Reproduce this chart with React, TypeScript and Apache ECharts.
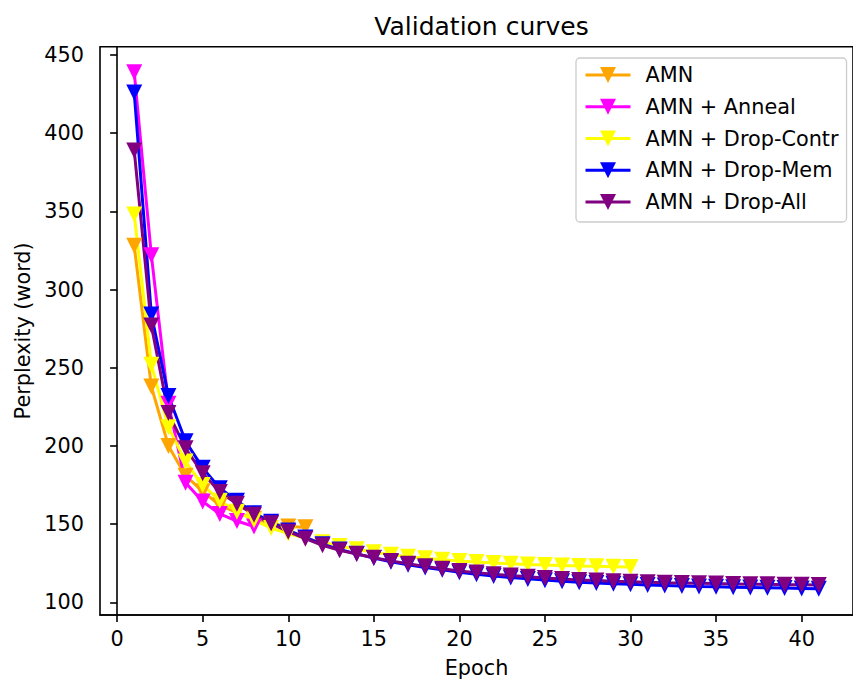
import React, { useEffect, useRef } from "react";
import * as echarts from "echarts";

const titleText = "Validation curves";
const xAxisName = "Epoch";
const yAxisName = "Perplexity (word)";
const xTicks = [0, 5, 10, 15, 20, 25, 30, 35, 40];
const yTicks = [100, 150, 200, 250, 300, 350, 400, 450];

const seriesNames = [
  "AMN",
  "AMN + Anneal",
  "AMN + Drop-Contr",
  "AMN + Drop-Mem",
  "AMN + Drop-All",
];
const seriesColors = ["#FFA500", "#FF00FF", "#FFFF00", "#0000FF", "#800080"];

const amn = [328, 238, 200, 181, 171, 162, 157.5, 153.5, 150.5, 148.5, 148];
const amnAnneal = [439, 322, 227, 176.5, 164.5, 156.5, 152, 148.5];
const amnDropContr = [
  348, 252, 212, 190, 175, 165, 158, 152.5, 147.5, 144, 141, 138.5, 136, 134,
  132, 130.5, 129.2, 128.2, 127.3, 126.5, 125.8, 125.2, 124.7, 124.2, 123.8,
  123.5, 123.2, 123, 122.8, 122.6,
];
const amnDropMem = [
  426, 284, 232, 203, 186, 173, 165, 157, 151.5, 146, 141.5, 137.2, 133.8, 131,
  128.3, 126, 124, 122.3, 120.8, 119.3, 118, 116.9, 115.9, 115, 114.2, 113.5,
  112.9, 112.4, 111.9, 111.5, 111.1, 110.8, 110.5, 110.2, 110, 109.7, 109.5,
  109.3, 109.1, 108.9, 108.7,
];
const amnDropAll = [
  389, 277, 221, 198.5, 182.5, 170.5, 163, 156, 150.5, 145.2, 140.7, 136.5,
  133.3, 130.9, 128.5, 126.5, 124.7, 123, 121.5, 120.1, 119, 118, 117.1, 116.3,
  115.5, 114.9, 114.3, 113.9, 113.5, 113.2, 112.9, 112.6, 112.4, 112.2, 112,
  111.8, 111.6, 111.5, 111.3, 111.2, 111.1,
];

const allValues = [amn, amnAnneal, amnDropContr, amnDropMem, amnDropAll];

const FONT = "DejaVu Sans";

export default function App() {
  const ref = useRef<HTMLDivElement>(null);
  useEffect(() => {
    document.body.style.margin = "0";
    const chart = echarts.init(ref.current!, null, { renderer: "svg" });
    const series = allValues.map((vals, i) => ({
      name: seriesNames[i],
      type: "line",
      data: vals.map((v, j) => [j + 1, v]),
      symbol: "triangle",
      symbolSize: 16,
      symbolRotate: 180,
      showAllSymbol: true,
      lineStyle: { color: seriesColors[i], width: 3 },
      itemStyle: { color: seriesColors[i] },
      emphasis: { disabled: true },
    }));
    chart.setOption({
      animation: false,
      backgroundColor: "#ffffff",
      textStyle: { fontFamily: FONT },
      grid: {
        left: 100,
        top: 46.7,
        right: -10,
        bottom: 68,
        show: true,
        borderColor: "#000",
        borderWidth: 1.6,
        containLabel: false,
      },
      graphic: [
        {
          type: "text",
          x: 481.5,
          y: 14,
          style: {
            text: titleText,
            fontSize: 25,
            fontFamily: FONT,
            fill: "#000",
            textAlign: "center",
            textVerticalAlign: "top",
          },
        },
      ],
      legend: {
        orient: "vertical",
        left: 576,
        top: 58,
        padding: [5, 8, 8, 8],
        itemWidth: 45,
        itemHeight: 20,
        itemGap: 7.75,
        backgroundColor: "rgba(255,255,255,0.8)",
        borderColor: "#cccccc",
        borderWidth: 1.3,
        borderRadius: 4,
        lineStyle: { width: 3 },
        textStyle: {
          fontFamily: FONT,
          fontSize: 20.8,
          color: "#000",
          lineHeight: 24,
          padding: [0, 0, 0, 10],
        },
        data: seriesNames,
      },
      xAxis: {
        type: "value",
        min: -1,
        max: 43,
        name: xAxisName,
        nameLocation: "middle",
        nameGap: 42,
        nameTextStyle: { fontFamily: FONT, fontSize: 20.8, color: "#000" },
        axisLine: { lineStyle: { color: "#000", width: 1.6 } },
        axisTick: {
          show: true,
          length: 7,
          lineStyle: { color: "#000", width: 1.6 },
          customValues: xTicks,
        },
        axisLabel: {
          fontFamily: FONT,
          fontSize: 20.8,
          color: "#000",
          margin: 13,
          customValues: xTicks,
        },
        splitLine: { show: false },
      },
      yAxis: {
        type: "value",
        min: 91.9,
        max: 455.3,
        name: yAxisName,
        nameLocation: "middle",
        nameGap: 66,
        nameTextStyle: { fontFamily: FONT, fontSize: 20.8, color: "#000" },
        axisLine: { show: true, lineStyle: { color: "#000", width: 1.6 } },
        axisTick: {
          show: true,
          length: 7,
          lineStyle: { color: "#000", width: 1.6 },
          customValues: yTicks,
        },
        axisLabel: {
          fontFamily: FONT,
          fontSize: 20.8,
          color: "#000",
          margin: 16,
          customValues: yTicks,
        },
        splitLine: { show: false },
      },
      series,
    });
    return () => chart.dispose();
  }, []);
  return <div ref={ref} style={{ width: 853, height: 683 }} />;
}
